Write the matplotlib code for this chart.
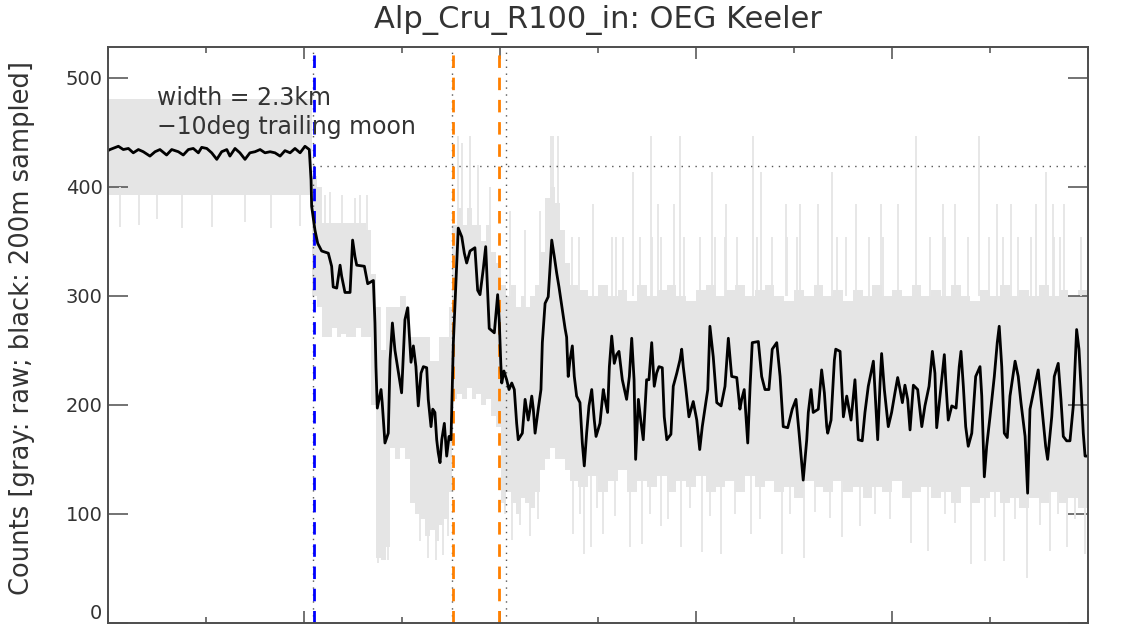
import matplotlib
matplotlib.use("Agg")
import matplotlib.pyplot as plt

# along-track distance (km) and 200 m sampled counts (black line)
dist_km = [
    0.00, 0.10, 0.53, 0.78, 1.04, 1.29, 1.55, 1.80, 2.14, 2.40, 2.65, 2.99, 3.25,
    3.59, 3.84, 4.10, 4.35, 4.61, 4.78, 5.04, 5.29, 5.55, 5.80, 6.06, 6.22, 6.48,
    6.73, 6.99, 7.24, 7.50, 7.76, 8.01, 8.27, 8.52, 8.78, 9.03, 9.29, 9.54, 9.80,
    10.05, 10.27, 10.36, 10.39, 10.56, 10.70, 10.90, 11.24, 11.41, 11.49, 11.67,
    11.84, 11.92, 12.09, 12.35, 12.48, 12.60, 12.69, 13.08, 13.25, 13.54, 13.62,
    13.67, 13.74, 13.93, 13.99, 14.13, 14.30, 14.39, 14.51, 14.64, 14.90, 14.98,
    15.15, 15.29, 15.46, 15.58, 15.71, 15.83, 15.97, 16.09, 16.26, 16.34, 16.48,
    16.57, 16.68, 16.77, 16.85, 16.94, 17.03, 17.16, 17.28, 17.40, 17.50, 17.62,
    17.74, 17.87, 18.05, 18.18, 18.30, 18.47, 18.72, 18.86, 18.98, 19.15, 19.27,
    19.37, 19.45, 19.71, 19.80, 19.88, 19.96, 20.04, 20.09, 20.20, 20.34, 20.46,
    20.60, 20.73, 20.85, 20.93, 21.14, 21.28, 21.44, 21.53, 21.62, 21.70, 21.79,
    21.95, 22.09, 22.16, 22.30, 22.46, 22.64, 22.77, 22.89, 23.01, 23.18, 23.32,
    23.40, 23.48, 23.57, 23.69, 23.79, 23.91, 24.08, 24.20, 24.30, 24.42, 24.54,
    24.68, 24.81, 24.90, 25.10, 25.27, 25.36, 25.49, 25.58, 25.70, 25.83, 25.95,
    26.07, 26.24, 26.46, 26.60, 26.72, 26.84, 26.92, 27.06, 27.18, 27.31, 27.48,
    27.60, 27.74, 27.87, 27.99, 28.11, 28.28, 28.38, 28.51, 28.72, 28.84, 29.02,
    29.18, 29.27, 29.35, 29.47, 29.64, 29.86, 30.04, 30.19, 30.32, 30.60, 30.71,
    30.88, 31.06, 31.28, 31.48, 31.65, 31.82, 32.08, 32.24, 32.33, 32.46, 32.64,
    32.76, 32.87, 33.18, 33.35, 33.52, 33.72, 33.89, 34.12, 34.29, 34.45, 34.68,
    34.91, 35.10, 35.26, 35.47, 35.65, 35.73, 35.87, 35.98, 36.24, 36.41, 36.55,
    36.67, 36.72, 36.89, 37.06, 37.13, 37.35, 37.52, 37.69, 37.81, 37.91, 38.11,
    38.28, 38.48, 38.62, 38.79, 39.05, 39.13, 39.27, 39.39, 39.47, 39.61, 39.81,
    39.98, 40.15, 40.29, 40.41, 40.53, 40.66, 40.80, 40.92, 41.09, 41.31, 41.52,
    41.68, 41.89, 42.06, 42.19, 42.28, 42.45, 42.67, 42.74, 42.87, 43.05, 43.27,
    43.43, 43.52, 43.64, 43.76, 43.89, 44.07, 44.27, 44.49, 44.58, 44.71, 44.83,
    45.00, 45.22, 45.37, 45.47, 45.60, 45.73, 45.88, 46.02, 46.28, 46.44, 46.58,
    46.79, 46.92, 47.04, 47.21, 47.46, 47.67, 47.84, 47.94, 48.15, 48.28, 48.48,
    48.62, 48.74, 48.91, 49.08, 49.25, 49.42, 49.54, 49.64, 49.76, 49.85, 50.00,
]
counts = [
    433, 434, 437, 434, 435, 431, 434, 432, 428, 432, 434, 429, 434,
    432, 429, 434, 435, 431, 436, 435, 431, 425, 432, 434, 428, 435,
    431, 425, 431, 432, 434, 431, 432, 431, 428, 433, 431, 435, 431,
    437, 434, 406, 382, 360, 348, 341, 339, 327, 308, 307,
    328, 318, 303, 303, 351, 336, 328, 327, 311, 314, 275,
    235, 197, 214, 202, 165, 174, 241, 275, 250, 220, 211,
    278, 289, 239, 254, 235, 199, 229, 235, 234, 205, 180,
    196, 193, 168, 156, 147, 168, 183, 153, 171, 168, 257,
    308, 362, 354, 339, 330, 341, 344, 305, 301, 325, 345,
    302, 270, 266, 284, 301, 278, 238, 220, 231, 223, 214,
    220, 214, 183, 168, 174, 205, 186, 196, 208, 196, 174,
    196, 214, 257, 293, 299, 351, 336, 321, 308, 287, 270,
    262, 226, 241, 254, 226, 208, 202, 165, 144, 174, 199,
    214, 186, 171, 183, 214, 205, 193, 235, 263, 238, 246,
    249, 223, 205, 226, 261, 223, 150, 205, 186, 168, 223,
    223, 257, 217, 229, 235, 234, 189, 168, 173, 217, 229,
    241, 251, 235, 217, 189, 203, 186, 159, 180, 214, 272,
    244, 202, 199, 217, 261, 226, 225, 196, 205, 214, 165,
    217, 257, 258, 226, 214, 214, 251, 257, 226, 180, 179,
    196, 205, 174, 131, 168, 193, 214, 193, 196, 232, 211,
    180, 174, 186, 241, 251, 249, 189, 208, 196, 186, 223,
    168, 167, 193, 217, 240, 214, 168, 220, 247, 214, 180,
    193, 211, 225, 214, 202, 218, 205, 177, 218, 214, 180,
    199, 217, 249, 229, 179, 208, 246, 223, 186, 199, 197,
    235, 249, 217, 180, 162, 174, 226, 235, 208, 134, 162,
    189, 226, 257, 272, 235, 174, 170, 208, 240, 226, 202,
    171, 119, 196, 211, 232, 193, 162, 150, 189, 226, 238,
    205, 171, 167, 167, 199, 269, 251, 217, 174, 153, 153,
]

# raw counts (gray): dense band, lower / upper edge per step (km)
band_km = [
    0.00, 10.41, 10.66, 10.91, 11.16, 11.41, 11.66, 11.91, 12.16, 12.41, 12.66,
    12.91, 13.16, 13.41, 13.66, 13.91, 14.16, 14.41, 14.66, 14.91, 15.16, 15.41,
    15.66, 15.91, 16.16, 16.41, 16.66, 16.91, 17.16, 17.41, 17.55, 17.80, 18.05,
    18.30, 18.55, 18.80, 19.05, 19.30, 19.55, 19.80, 20.05, 20.30, 20.55, 20.80,
    21.05, 21.30, 21.55, 21.80, 22.05, 22.30, 22.55, 22.80, 23.05, 23.30, 23.55,
    24.0, 24.5, 25.0, 25.5, 26.0, 26.5, 27.0, 27.5, 28.0, 28.5, 29.0, 29.5,
    30.0, 30.5, 31.0, 31.5, 32.0, 32.5, 33.0, 33.5, 34.0, 34.5, 35.0, 35.5,
    36.0, 36.5, 37.0, 37.5, 38.0, 38.5, 39.0, 39.5, 40.0, 40.5, 41.0, 41.5,
    42.0, 42.5, 43.0, 43.5, 44.0, 44.5, 45.0, 45.5, 46.0, 46.5, 47.0, 47.5,
    48.0, 48.5, 49.0, 49.5, 50.0,
]
band_lo = [
    392, 300, 290, 262, 262, 270, 262, 265, 262, 262, 270,
    262, 262, 200, 60, 58, 70, 160, 150, 160, 150, 110,
    100, 95, 80, 85, 75, 90, 95, 120, 205, 210, 205,
    215, 205, 210, 200, 205, 190, 180, 110, 120, 110, 100,
    115, 110, 105, 120, 140, 150, 160, 150, 150, 140, 130,
    125, 135, 120, 130, 140, 120, 130, 125, 135, 120, 130, 125,
    135, 120, 125, 130, 120, 135, 125, 130, 120, 125, 115, 130,
    125, 120, 130, 120, 125, 115, 125, 120, 130, 115, 120, 125,
    115, 120, 110, 125, 110, 115, 120, 110, 115, 105, 115, 110,
    120, 110, 115, 105, 105,
]
band_hi = [
    480, 410, 400, 367, 367, 367, 367, 367, 367, 367, 367,
    367, 360, 320, 290, 250, 290, 290, 290, 300, 290, 262,
    262, 262, 262, 240, 240, 262, 262, 290, 365, 380, 365,
    380, 365, 365, 350, 365, 340, 330, 310, 300, 310, 290,
    300, 290, 300, 310, 340, 390, 400, 385, 360, 330, 310,
    305, 300, 310, 300, 305, 295, 310, 300, 305, 310, 300, 295,
    305, 310, 300, 305, 310, 300, 305, 310, 300, 295, 305, 300,
    310, 300, 305, 295, 305, 300, 310, 300, 305, 300, 310, 300,
    305, 300, 310, 300, 295, 305, 300, 310, 300, 305, 300, 310,
    300, 305, 300, 305, 305,
]

# raw counts (gray): isolated excursions outside the band
spike_km = [
    0.6, 1.6, 2.5, 3.8, 5.3, 7.0, 8.3, 9.8,
    11.07, 11.33, 11.94, 12.60, 12.86, 13.21,
    13.78, 14.03, 14.29, 15.92, 16.33, 16.73, 17.09, 17.35, 15.15,
    17.86, 18.06, 18.47, 18.88, 19.49,
    20.26, 20.61, 21.02, 21.53, 21.94, 20.51, 21.28, 22.04,
    22.58, 22.70, 22.94, 27.69, 29.18, 32.89, 41.22, 44.46,
    26.79, 30.82, 33.34, 36.92, 47.86,
    24.73, 28.05, 28.86, 31.55, 34.59, 35.31, 36.21, 38.18, 39.44, 40.33,
    42.58, 43.21, 45.36, 46.07, 47.33, 48.22, 48.76,
    23.67, 24.03, 25.71, 25.92, 26.28, 27.14, 27.76, 28.21, 29.39, 30.20,
    30.97, 31.48, 32.09, 33.11, 33.88, 34.64, 35.15, 37.19, 37.65, 38.83,
    39.54, 41.94, 42.70, 43.88, 44.95, 45.66, 46.43, 47.09, 48.27, 48.57, 49.64,
    23.74, 24.29, 24.64, 25.26, 26.61, 27.24, 28.21, 29.21, 30.29, 31.28,
    32.81, 34.41, 35.49, 37.46, 38.37, 40.96, 41.86, 44.01, 44.72, 45.71,
    46.88, 48.05, 48.93, 49.84,
    24.08, 24.95, 25.87, 27.65, 28.57, 29.69, 30.71, 31.99, 33.27, 34.80,
    36.07, 36.84, 39.13, 39.90, 42.70, 43.21, 45.26, 46.28, 47.55, 48.47, 49.34,
]
spike_lo = [
    363, 365, 370, 362, 363, 368, 362, 364,
    300, 300, 300, 300, 300, 300,
    55, 60, 58, 75, 60, 58, 62, 80, 250,
    300, 300, 300, 300, 300,
    100, 76, 90, 80, 95, 250, 250, 250,
    300, 300, 300, 300, 300, 300, 300, 300,
    300, 300, 300, 300, 300,
    300, 300, 300, 300, 300, 300, 300, 300, 300, 300,
    300, 300, 300, 300, 300, 300, 300,
    300, 300, 300, 300, 300, 300, 300, 300, 300, 300,
    300, 300, 300, 300, 300, 300, 300, 300, 300, 300,
    300, 300, 300, 300, 300, 300, 300, 300, 300, 300, 300,
    82, 63, 70, 82, 70, 72, 89, 70, 65, 63,
    82, 63, 60, 79, 89, 73, 66, 54, 57, 57,
    41, 66, 70, 63,
    100, 105, 98, 100, 95, 105, 98, 100, 95, 100,
    102, 96, 100, 95, 100, 92, 97, 95, 90, 100, 95,
]
spike_hi = [
    400, 400, 400, 400, 400, 400, 400, 400,
    392, 395, 392, 390, 392, 392,
    200, 200, 200, 150, 150, 150, 150, 150, 300,
    446, 440, 446, 420, 400,
    150, 150, 150, 150, 150, 378, 360, 378,
    446, 446, 446, 446, 446, 446, 446, 446,
    413, 413, 413, 413, 413,
    384, 384, 384, 384, 384, 384, 384, 384, 384, 384,
    384, 384, 384, 384, 384, 384, 384,
    354, 354, 354, 354, 354, 354, 354, 354, 354, 354,
    354, 354, 354, 354, 354, 354, 354, 354, 354, 354,
    354, 354, 354, 354, 354, 354, 354, 354, 354, 354, 354,
    140, 140, 140, 140, 140, 140, 140, 140, 140, 140,
    140, 140, 140, 140, 140, 140, 140, 140, 140, 140,
    140, 140, 140, 140,
    140, 140, 140, 140, 140, 140, 140, 140, 140, 140,
    140, 140, 140, 140, 140, 140, 140, 140, 140, 140, 140,
]

# marker positions (km) and reference level
edge_dotted = [10.47, 17.55, 20.31]
edge_blue = 10.53
edge_orange = [17.62, 19.96]
ref_level = 419

gray = "#e5e5e5"
axcol = "#4d4d4d"
txtcol = "#333333"

fig = plt.figure(figsize=(11.3, 6.24), dpi=100)
ax = fig.add_axes([108 / 1130, 1 / 624, 980 / 1130, 576 / 624])

ax.fill_between(band_km, band_lo, band_hi, step="post", color=gray, lw=0)
ax.vlines(spike_km, spike_lo, spike_hi, color=gray, lw=1.3)

for xd in edge_dotted:
    ax.axvline(xd, color="#555555", lw=1.0, dashes=(1, 4))
ax.plot([edge_dotted[0], 50], [ref_level, ref_level], color="#555555", lw=1.0, dashes=(1, 4))

ax.axvline(edge_blue, color="#0000ff", lw=2.0, dashes=(4.5, 3.5))
for xo in edge_orange:
    ax.axvline(xo, color="#ff8000", lw=2.0, dashes=(4.5, 3.5))

ax.plot(dist_km, counts, color="black", lw=2.0)

ax.text(2.5, 475, "width = 2.3km", fontsize=17, color=txtcol, va="baseline")
ax.text(2.5, 448, "\u221210deg trailing moon", fontsize=17, color=txtcol, va="baseline")

ax.set_xlim(0, 50)
ax.set_ylim(0, 528)
ax.set_xticks([0, 10, 20, 30, 40, 50])
ax.set_xticks([5, 15, 25, 35, 45], minor=True)
ax.set_yticks([0, 100, 200, 300, 400, 500])
ax.tick_params(axis="x", which="major", direction="in", length=8.6, width=1.1,
               color=axcol, top=True, labelbottom=False)
ax.tick_params(axis="x", which="minor", direction="in", length=4.3, width=1.1,
               color=axcol, top=True)
ax.tick_params(axis="y", which="major", direction="in", length=14.4, width=1.1,
               color=axcol, right=True, labelsize=14, labelcolor=txtcol, pad=4)
ax.get_yticklabels()[0].set_verticalalignment("bottom")
for sp in ax.spines.values():
    sp.set_color(axcol)
    sp.set_linewidth(1.4)

fig.text(598 / 1130, 1 - 20 / 624, "Alp_Cru_R100_in: OEG Keeler", ha="center", va="center",
         fontsize=22, color=txtcol, family="Liberation Sans Narrow")
fig.text(22 / 1130, 1 - 328 / 624, "Counts [gray: raw; black: 200m sampled]", rotation=90,
         ha="center", va="center", fontsize=18.5, color=txtcol)

fig.savefig("out.png", dpi=100)
